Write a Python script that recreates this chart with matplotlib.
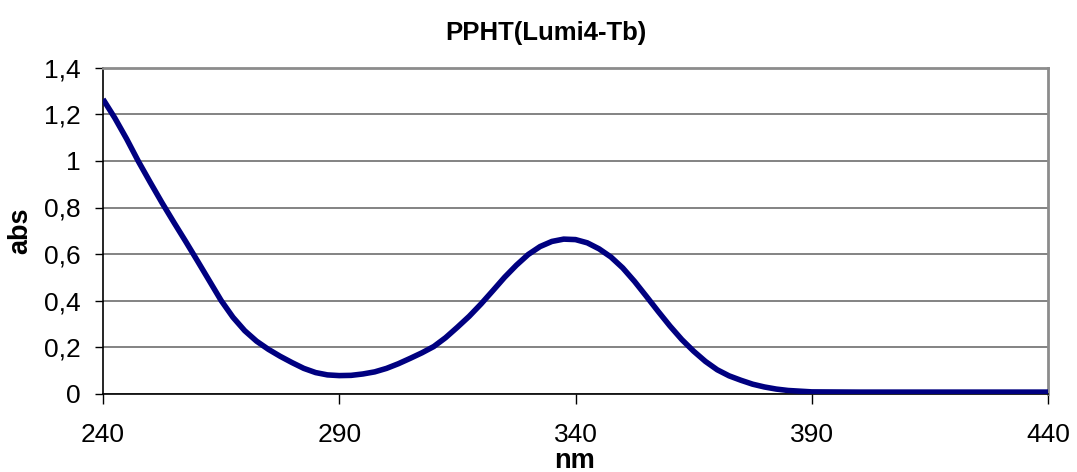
import matplotlib
matplotlib.use("Agg")
import matplotlib.pyplot as plt
from matplotlib.ticker import FuncFormatter, MultipleLocator

# Absorption spectrum of PPHT(Lumi4-Tb)
wavelength_nm = [240, 242.5, 245, 247.5, 250, 252.5, 255, 257.5, 260, 262.5,
                 265, 267.5, 270, 272.5, 275, 277.5, 280, 282.5, 285, 287.5,
                 290, 292.5, 295, 297.5, 300, 302.5, 305, 307.5, 310, 312.5,
                 315, 317.5, 320, 322.5, 325, 327.5, 330, 332.5, 335, 337.5,
                 340, 342.5, 345, 347.5, 350, 352.5, 355, 357.5, 360, 362.5,
                 365, 367.5, 370, 372.5, 375, 377.5, 380, 382.5, 385, 387.5,
                 390, 400, 410, 420, 430, 440]
absorbance = [1.266, 1.185, 1.095, 0.998, 0.908, 0.82, 0.736, 0.654, 0.57, 0.485,
              0.40, 0.328, 0.27, 0.225, 0.19, 0.16, 0.133, 0.108, 0.09, 0.08,
              0.077, 0.078, 0.084, 0.093, 0.108, 0.128, 0.151, 0.175, 0.202, 0.24,
              0.285, 0.332, 0.385, 0.442, 0.50, 0.552, 0.598, 0.632, 0.654, 0.664,
              0.662, 0.648, 0.622, 0.587, 0.54, 0.482, 0.418, 0.353, 0.29, 0.232,
              0.182, 0.138, 0.102, 0.076, 0.057, 0.04, 0.028, 0.019, 0.013, 0.01,
              0.007, 0.006, 0.006, 0.006, 0.006, 0.006]

x_ticks = [240, 290, 340, 390, 440]
title = "PPHT(Lumi4-Tb)"
x_label = "nm"
y_label = "abs"

plt.rcParams["font.family"] = ["Liberation Sans", "DejaVu Sans"]

W, H = 1077, 472
fig = plt.figure(figsize=(W / 100, H / 100), dpi=100)
fig.patch.set_facecolor("white")

left, right, top, bottom = 103, 1048, 68, 393.5
ax = fig.add_axes([left / W, (H - bottom) / H, (right - left) / W, (bottom - top) / H])

ax.plot(wavelength_nm, absorbance, color="#000080", lw=4.0,
        solid_capstyle="butt", solid_joinstyle="round", zorder=3)

ax.set_xlim(240, 440)
ax.set_ylim(0, 1.4)
ax.set_xticks(x_ticks)
ax.yaxis.set_major_locator(MultipleLocator(0.2))
ax.yaxis.set_major_formatter(FuncFormatter(
    lambda v, p: ("%g" % round(v, 2)).replace(".", ",")))

ax.grid(axis="y", color="#6e6e6e", lw=1.2, zorder=1)
ax.grid(axis="x", visible=False)

for side in ("top", "right"):
    ax.spines[side].set_color("#8c8c8c")
    ax.spines[side].set_linewidth(2.0)
for side in ("left", "bottom"):
    ax.spines[side].set_color("black")
    ax.spines[side].set_linewidth(1.2)

ax.tick_params(axis="y", length=6, width=1, direction="out", pad=10,
               labelsize=19, colors="black")
ax.tick_params(axis="x", length=7, width=1, direction="out", pad=14,
               labelsize=19, colors="black")

fig.text(546 / W, 1 - 33 / H, title, ha="center", va="center",
         fontsize=18.5, fontweight="bold")
fig.text(20 / W, 1 - 231 / H, y_label, ha="center", va="center",
         rotation=90, fontsize=19.5, fontweight="bold")
fig.text(575 / W, 1 - 461 / H, x_label, ha="center", va="center",
         fontsize=19.5, fontweight="bold")

fig.savefig("out.png", dpi=100, facecolor="white")
